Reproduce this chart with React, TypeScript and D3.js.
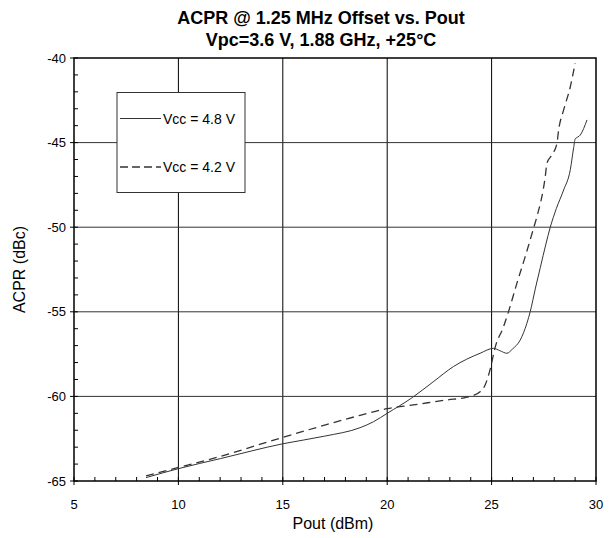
import React from "react";
import * as d3 from "d3";

const titleLines = ["ACPR @ 1.25 MHz Offset vs. Pout", "Vpc=3.6 V, 1.88 GHz, +25°C"];
const xLabel = "Pout (dBm)";
const yLabel = "ACPR (dBc)";
const xTicks = [5, 10, 15, 20, 25, 30];
const yTicks = [-40, -45, -50, -55, -60, -65];
const seriesNames = ["Vcc = 4.8 V", "Vcc = 4.2 V"];

const vcc48Pout = [8.45, 10, 12, 15, 17, 18.7, 19.34, 20, 21.2, 22.2, 23.17, 24.45, 25.09, 25.4, 25.73, 26.0, 26.37, 26.69, 26.85, 27.1, 27.33, 27.6, 27.81, 28.1, 28.45, 28.77, 28.93, 29.0, 29.25, 29.57];
const vcc48Acpr = [-64.8, -64.27, -63.68, -62.8, -62.35, -61.85, -61.5, -61.0, -60.07, -59.14, -58.24, -57.45, -57.16, -57.3, -57.45, -57.2, -56.67, -55.68, -54.99, -53.6, -52.4, -51.0, -50.0, -48.9, -47.8, -46.6, -45.3, -44.8, -44.55, -43.66];

const vcc42Pout = [8.45, 10, 12, 15, 17, 18.7, 20, 21.26, 22.86, 23.82, 24.45, 24.69, 24.93, 25.17, 25.57, 25.81, 26.21, 26.61, 27.0, 27.17, 27.57, 27.65, 27.89, 28.13, 28.21, 28.45, 28.77, 29.0];
const vcc42Acpr = [-64.7, -64.2, -63.55, -62.42, -61.7, -61.12, -60.72, -60.5, -60.21, -60.05, -59.72, -59.33, -58.4, -57.1, -55.88, -54.99, -53.32, -51.74, -50.1, -49.38, -47.0, -46.22, -45.73, -45.04, -44.26, -43.07, -41.7, -40.31];

const W = 614, H = 538;
const L = 74, R = 596, T = 58, B = 481;
const FONT = "'Liberation Sans', Arial, sans-serif";

export default function App() {
  const x = d3.scaleLinear().domain([5, 30]).range([L, R]);
  const y = d3.scaleLinear().domain([-65, -40]).range([B, T]);
  const line = d3.line<[number, number]>().x(d => x(d[0])).y(d => y(d[1])).curve(d3.curveMonotoneX);
  const s1 = vcc48Pout.map((v, i) => [v, vcc48Acpr[i]] as [number, number]);
  const s2 = vcc42Pout.map((v, i) => [v, vcc42Acpr[i]] as [number, number]);
  const xMinor = d3.range(5, 31, 1);
  const yMinor = d3.range(-65, -39, 1);

  return (
    <svg width={W} height={H} style={{ position: "absolute", left: 0, top: 0, background: "#fff" }} fontFamily={FONT}>
      <rect x={0} y={0} width={W} height={H} fill="#fff" />
      <text x={321} y={23.5} textAnchor="middle" fontWeight="bold" fontSize={18}>{titleLines[0]}</text>
      <text x={321} y={46} textAnchor="middle" fontWeight="bold" fontSize={18}>{titleLines[1]}</text>
      {/* grid */}
      {xTicks.slice(1, -1).map(t => (
        <line key={"gx" + t} x1={x(t)} x2={x(t)} y1={T} y2={B} stroke="#000" strokeWidth={1} />
      ))}
      {yTicks.slice(1, -1).map(t => (
        <line key={"gy" + t} x1={L} x2={R} y1={y(t)} y2={y(t)} stroke="#333" strokeWidth={1} />
      ))}
      {/* minor ticks */}
      {xMinor.map(t => (
        <line key={"mx" + t} x1={x(t)} x2={x(t)} y1={B} y2={B - 4} stroke="#000" strokeWidth={1} />
      ))}
      {yMinor.map(t => (
        <line key={"my" + t} x1={L} x2={L + 4} y1={y(t)} y2={y(t)} stroke="#000" strokeWidth={1} />
      ))}
      {xTicks.map(t => (
        <line key={"tx" + t} x1={x(t)} x2={x(t)} y1={B} y2={B + 4} stroke="#000" strokeWidth={1} />
      ))}
      {yTicks.map(t => (
        <line key={"ty" + t} x1={L - 4} x2={L} y1={y(t)} y2={y(t)} stroke="#000" strokeWidth={1} />
      ))}
      {/* frame */}
      <rect x={L} y={T} width={R - L} height={B - T} fill="none" stroke="#000" strokeWidth={1.5} />
      {/* series */}
      <path d={line(s1) || ""} fill="none" stroke="#333" strokeWidth={1} />
      <path d={line(s2) || ""} fill="none" stroke="#333" strokeWidth={1.3} strokeDasharray="8,5" />
      {/* tick labels */}
      {xTicks.map(t => (
        <text key={"lx" + t} x={x(t)} y={509} textAnchor="middle" fontSize={13}>{t}</text>
      ))}
      {yTicks.map(t => (
        <text key={"ly" + t} x={L - 8} y={y(t) + 4.5} textAnchor="end" fontSize={13}>{t}</text>
      ))}
      <text x={333} y={529} textAnchor="middle" fontSize={16}>{xLabel}</text>
      <text transform={`translate(25,${(T + B) / 2}) rotate(-90)`} textAnchor="middle" fontSize={16}>{yLabel}</text>
      {/* legend */}
      <rect x={117} y={92.5} width={128} height={100} fill="#fff" stroke="#333" strokeWidth={1} />
      <line x1={120} x2={161} y1={118.5} y2={118.5} stroke="#333" strokeWidth={1} />
      <text x={163} y={123.5} fontSize={14}>{seriesNames[0]}</text>
      <line x1={120} x2={161} y1={167} y2={167} stroke="#333" strokeWidth={1.3} strokeDasharray="8,4" />
      <text x={163} y={172} fontSize={14}>{seriesNames[1]}</text>
    </svg>
  );
}
